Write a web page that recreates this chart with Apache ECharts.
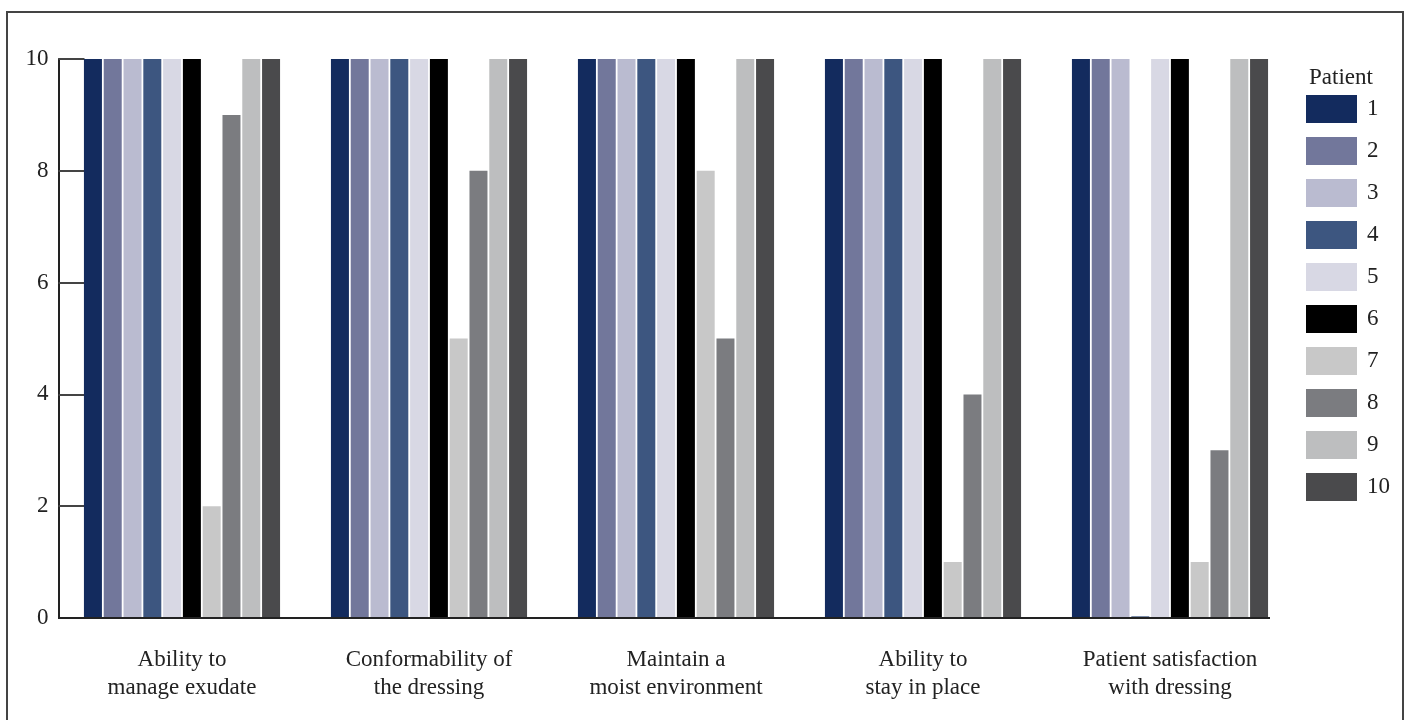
<!DOCTYPE html>
<html>
<head>
<meta charset="utf-8">
<script src="https://cdn.jsdelivr.net/npm/echarts@6/dist/echarts.min.js"></script>
<style>
html,body{margin:0;padding:0;background:#fff;}
#chart{width:1408px;height:720px;}
</style>
</head>
<body>
<div id="chart"></div>
<script>
const categories = ['Ability to\nmanage exudate', 'Conformability of\nthe dressing', 'Maintain a\nmoist environment', 'Ability to\nstay in place', 'Patient satisfaction\nwith dressing'];
const patients = ['1','2','3','4','5','6','7','8','9','10'];
const p1  = [10, 10, 10, 10, 10];
const p2  = [10, 10, 10, 10, 10];
const p3  = [10, 10, 10, 10, 10];
const p4  = [10, 10, 10, 10, 0.03];
const p5  = [10, 10, 10, 10, 10];
const p6  = [10, 10, 10, 10, 10];
const p7  = [2, 5, 8, 1, 1];
const p8  = [9, 8, 5, 4, 3];
const p9  = [10, 10, 10, 10, 10];
const p10 = [10, 10, 10, 10, 10];
const yTicks = [0, 2, 4, 6, 8, 10];

const values = [p1,p2,p3,p4,p5,p6,p7,p8,p9,p10];
const colors = ['#132b5e','#72779b','#babbd0','#3d5680','#d8d8e4','#000000','#c8c8c8','#7b7c80','#bdbebf','#4a4a4c'];
const font = "'Liberation Serif', 'DejaVu Serif', serif";

const chart = echarts.init(document.getElementById('chart'), null, {renderer:'canvas'});
chart.setOption({
  animation: false,
  backgroundColor: '#fff',
  color: colors,
  title: {
    text: 'Patient',
    left: 1304, top: 61,
    textStyle: {fontFamily: font, fontSize: 23, fontWeight: 'normal', color: '#222'}
  },
  legend: {
    data: patients,
    orient: 'vertical',
    left: 1306, top: 95,
    padding: 0,
    itemWidth: 51, itemHeight: 28, itemGap: 14,
    icon: 'rect',
    textStyle: {fontFamily: font, fontSize: 23, color: '#222', padding: [0,0,0,5]}
  },
  grid: {left: 58.5, top: 59, width: 1235, height: 559, containLabel: false},
  xAxis: {
    type: 'category',
    data: categories,
    axisLine: {show: false},
    axisTick: {show: false},
    axisLabel: {fontFamily: font, fontSize: 23, color: '#222', lineHeight: 28, margin: 28, interval: 0}
  },
  yAxis: {
    type: 'value',
    min: 0, max: 10, interval: 2,
    axisLine: {show: true, lineStyle: {color: '#222', width: 2}},
    axisTick: {show: true, inside: true, length: 26, lineStyle: {color: '#444', width: 2}},
    splitLine: {show: false},
    axisLabel: {fontFamily: font, fontSize: 23, color: '#222', margin: 10,
      formatter: v => yTicks.includes(v) ? String(v) : ''}
  },
  graphic: [
    {type: 'rect', shape: {x: 7, y: 12, width: 1396, height: 720}, style: {fill: 'none', stroke: '#444', lineWidth: 2}, silent: true, z: -1},
    {type: 'line', shape: {x1: 58, y1: 618, x2: 1270, y2: 618}, style: {stroke: '#222', lineWidth: 2}, z: 100}
  ],
  series: values.map((v, i) => ({
    name: patients[i],
    type: 'bar',
    data: v,
    barGap: '10%',
    barCategoryGap: '20.6%',
    itemStyle: {color: colors[i]}
  }))
});
</script>
</body>
</html>
